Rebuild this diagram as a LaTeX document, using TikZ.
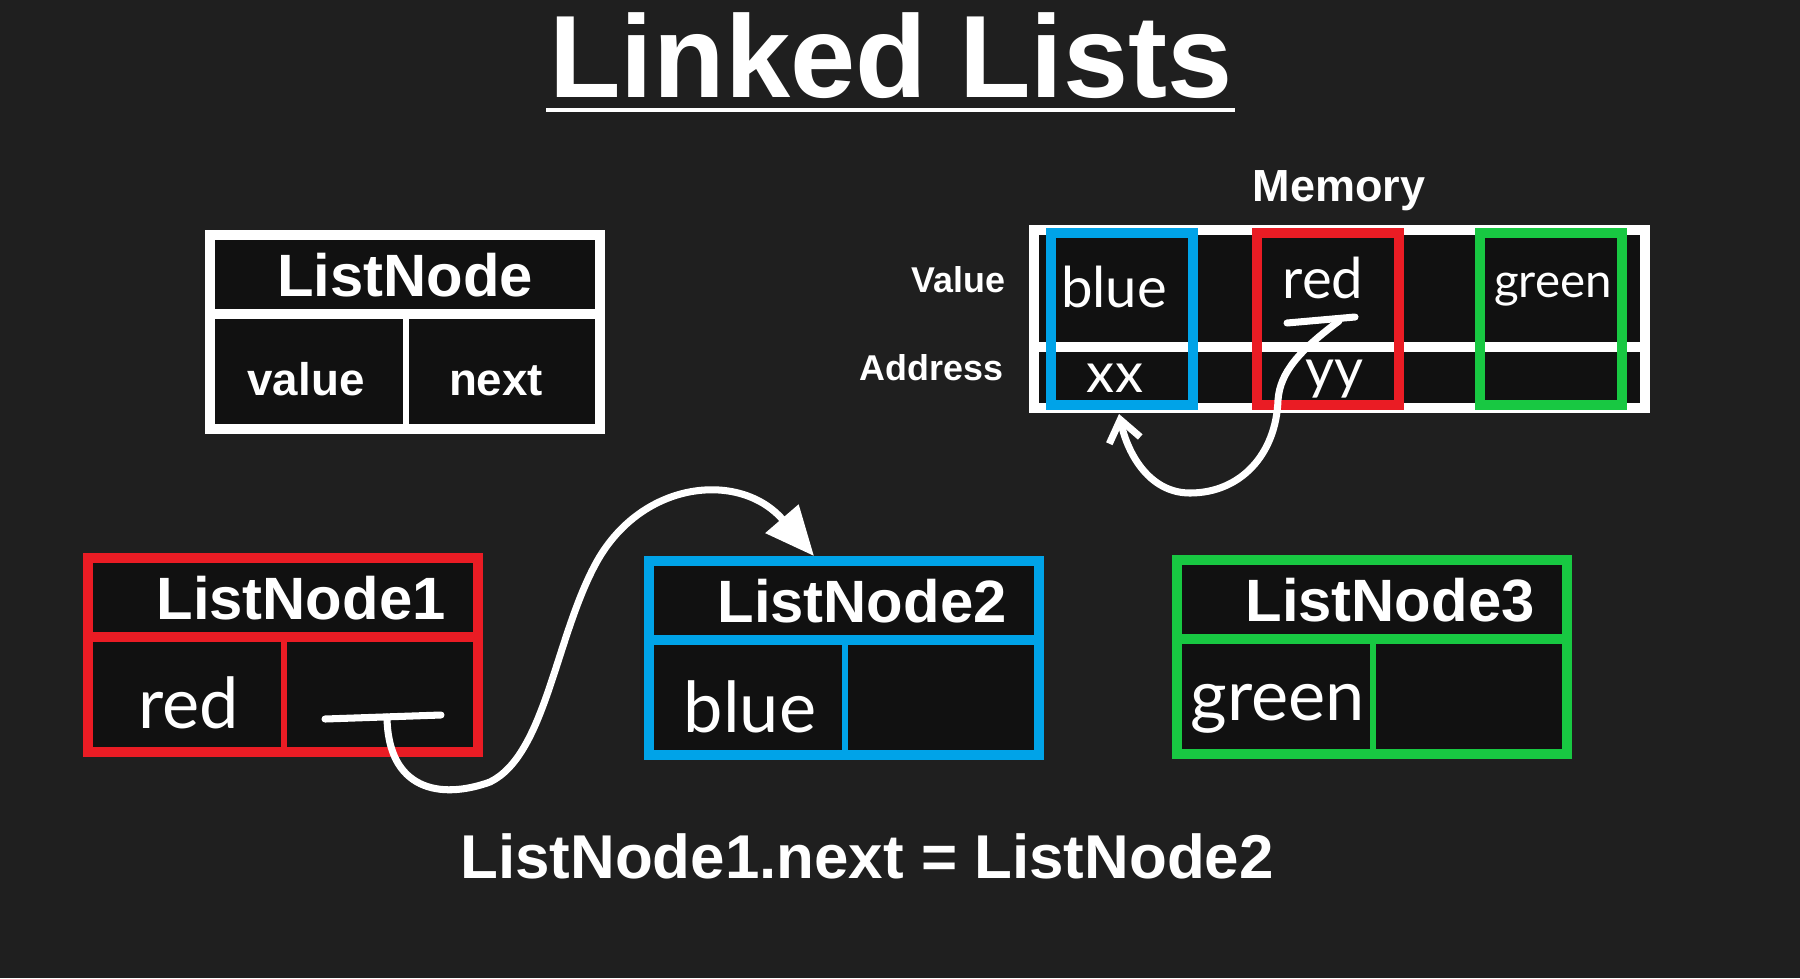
\documentclass[tikz,border=0pt]{standalone}
\usepackage{fontspec}
\setmainfont{Liberation Sans}
\newfontfamily\handfont{Lato}
\usetikzlibrary{arrows.meta}

\definecolor{bgdark}{RGB}{31,31,31}
\definecolor{cellfill}{RGB}{17,17,17}
\definecolor{llred}{RGB}{234,28,36}
\definecolor{llblue}{RGB}{0,163,232}
\definecolor{llgreen}{RGB}{24,200,66}

\begin{document}
\begin{tikzpicture}[x=0.01cm, y=-0.01cm,
  every node/.style={text=white, inner sep=0pt},
  txt/.style={font=\bfseries\fontsize{#1}{#1}\selectfont, anchor=base},
  hand/.style={font=\handfont\fontsize{#1}{#1}\selectfont, anchor=base},
  boxline/.style={line width=2.7pt},
  divline/.style={line width=1.6pt},
  ptr/.style={white, line width=2pt, line cap=round, line join=round}]

% Define box sizes
\def\bw{390}
\def\bh{194}
\def\hh{79}
\def\sw{196}

\useasboundingbox (0,0) rectangle (1800,978);
\fill[bgdark] (0,0) rectangle (1800,978);

% Title
\node[txt=33.3] (title) at (891,97) {Linked Lists};
\draw[white, line width=1.4pt] (546,110) -- (1235,110);

% Template node
\draw[boxline, white, fill=cellfill] (210,235) rectangle ++(\bw,\bh);
\draw[boxline, white] (210,235+\hh) -- ++(\bw,0);
\draw[divline, white] (210+\sw,235+\hh) -- (210+\sw,235+\bh);
\node[txt=17] (tmpl) at (405,296) {ListNode};
\node[txt=13] (tmplval) at (306,395) {value};
\node[txt=13] (tmplnext) at (496,395) {next};

% Memory
\node[txt=12.8] (mem) at (1339,201) {Memory};
\node[txt=10.2, anchor=base east] (valrow) at (1006,292) {Value};
\node[txt=10.2, anchor=base east] (addrrow) at (1004,380) {Address};
\draw[boxline, white, fill=cellfill] (1034,230) rectangle (1645,408);
\draw[boxline, white] (1034,347) -- (1645,347);
\foreach \x/\col in {1051/llblue, 1257/llred, 1480/llgreen} {
    \draw[boxline, \col] (\x,233) rectangle ++(142,172);
}
\node[hand=16] (memblue) at (1114,307) {blue};
\node[hand=16] (memred) at (1323,298) {red};
\node[hand=13.5] (memgreen) at (1553,297) {green};
\node[hand=16] (memxx) at (1115,392) {xx};
\node[hand=16] (memyy) at (1334,388) {yy};

% Address pointer from red back to blue
\coordinate (redbarl) at (1287,323);
\coordinate (redbarr) at (1355,317);
\coordinate (redptr) at (1339,321);
\coordinate (bluein) at (1119,414);
\draw[ptr] (redbarl) -- (redbarr);
\draw[ptr, -{Straight Barb[length=6pt, width=9pt]}] (redptr) .. controls (1300,350) and (1280,372) .. (1278,400)
    .. controls (1276,455) and (1240,493) .. (1190,493)
    .. controls (1150,493) and (1128,455) .. (bluein);

% ListNode1..3
\foreach \i/\x/\y/\col/\val/\vb in {1/88/558/llred/red/728, 2/649/561/llblue/blue/732, 3/1177/560/llgreen/green/720} {
    \draw[boxline, \col, fill=cellfill] (\x,\y) rectangle ++(\bw,\bh);
    \draw[boxline, \col] (\x,\y+\hh) -- ++(\bw,0);
    \draw[divline, \col] (\x+\sw,\y+\hh) -- (\x+\sw,\y+\bh);
    \node[txt=17] (ln\i) at (\x+213,\y+61) {ListNode\i};
    \node[hand=20] (lnval\i) at (\x+101,\vb) {\val};
}

% ListNode1.next pointer
\coordinate (n1barl) at (325,719);
\coordinate (n1barr) at (441,715);
\coordinate (n1ptr) at (387,717);
\coordinate (n2in) at (814,556);
\draw[ptr] (n1barl) -- (n1barr);
\draw[ptr, -{Triangle[length=14pt, width=12pt]}] (n1ptr) .. controls (388,790) and (440,800) .. (490,782)
    .. controls (545,755) and (555,640) .. (595,565)
    .. controls (640,480) and (740,470) .. (n2in);

% Caption
\node[txt=17.6] (eqn) at (867,878) {ListNode1.next = ListNode2};

\end{tikzpicture}
\end{document}
